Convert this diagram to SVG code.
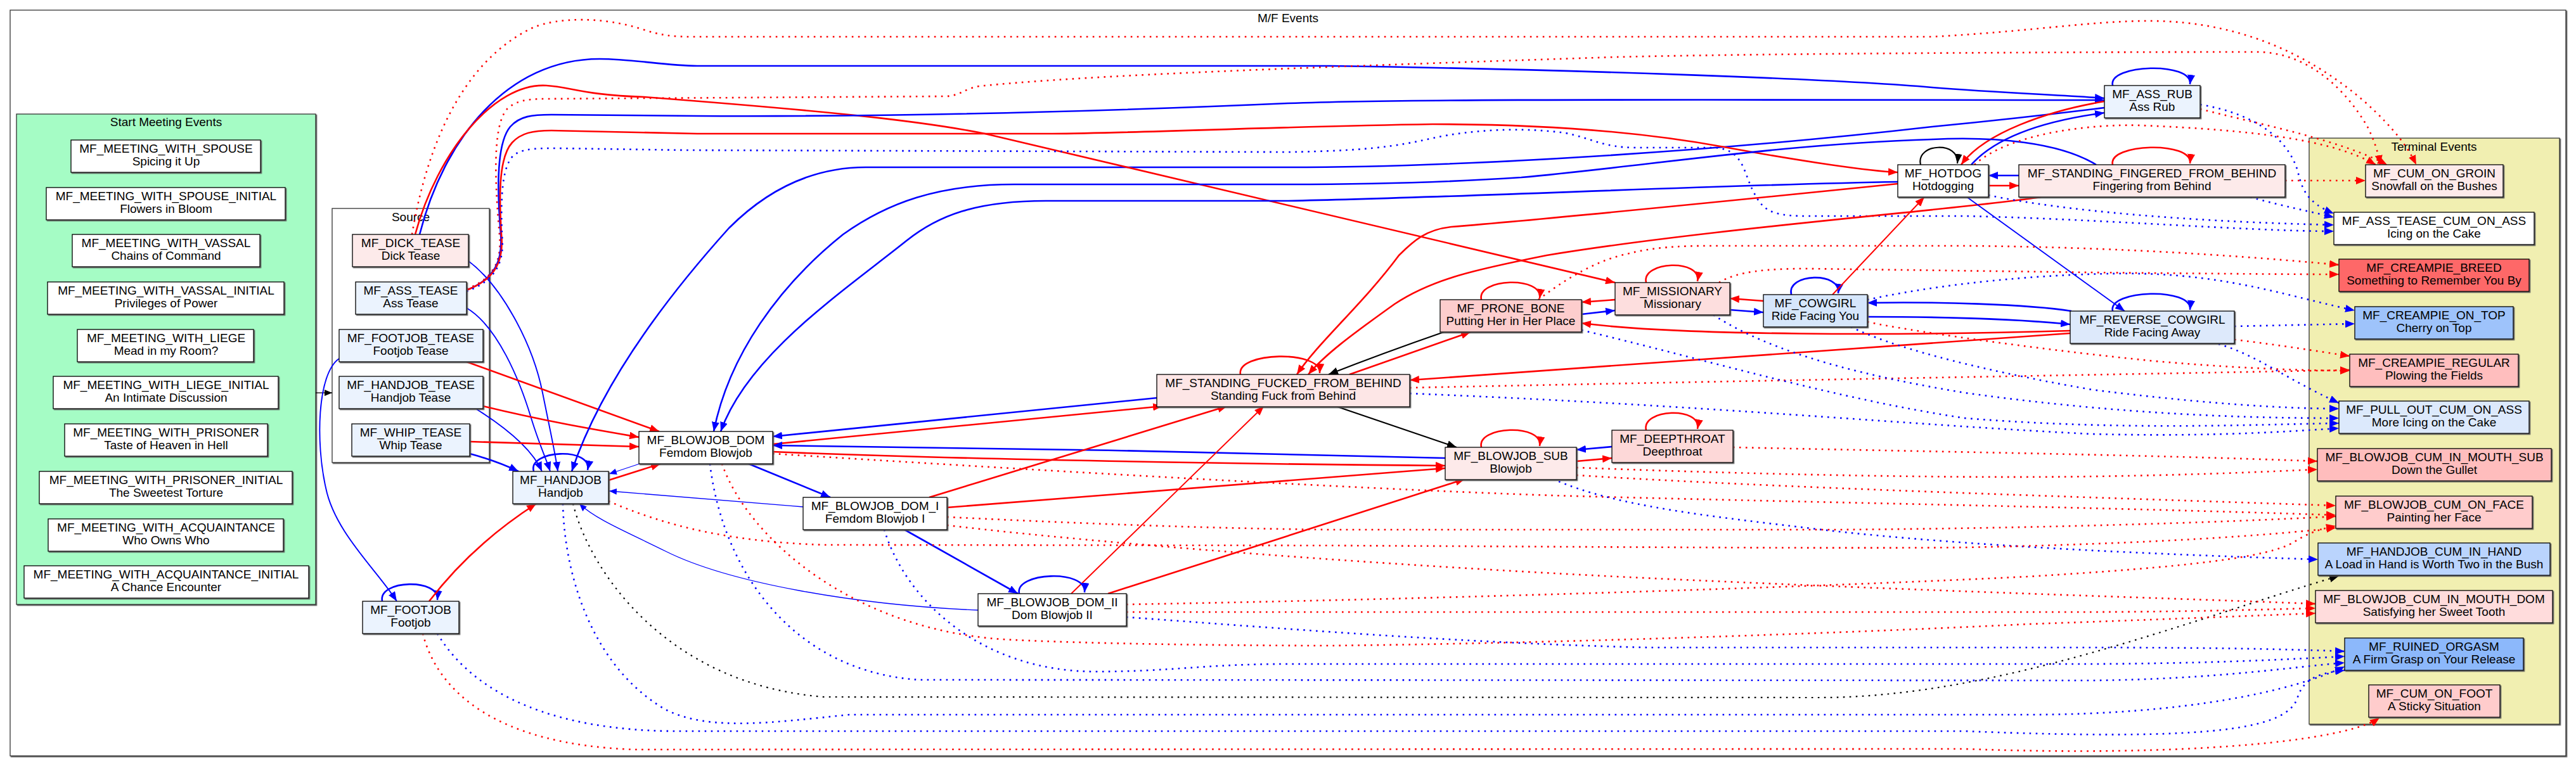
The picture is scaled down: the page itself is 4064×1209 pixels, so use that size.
<svg xmlns="http://www.w3.org/2000/svg" width="4064" height="1209" viewBox="0 0 4064 1209">
<style>
text{font-family:"Liberation Sans",Arial,sans-serif;font-size:19px;text-anchor:middle;fill:#000}
.n rect{stroke:#000;stroke-width:1.3;filter:url(#sh)}
.c{stroke:#333;stroke-width:1.3;filter:url(#sh)}
.e path{fill:none}
.r{stroke:#f00;stroke-width:2.6;marker-end:url(#mr)}
.b{stroke:#00f;stroke-width:2.6;marker-end:url(#mb)}
.k{stroke:#000;stroke-width:2.2;marker-end:url(#mk)}
.m{stroke-width:1.9}
.bt{stroke:#00f;stroke-width:1.3;marker-end:url(#mbs)}
.ks{stroke:#000;stroke-width:1.3;marker-end:url(#mks)}
.d{stroke-dasharray:2.6 7.4}
</style>
<defs>
<filter id="sh" x="-5%" y="-5%" width="110%" height="120%"><feDropShadow dx="1.5" dy="1.5" stdDeviation="0.3" flood-color="#555" flood-opacity="1"/></filter>
<marker id="mr" markerUnits="userSpaceOnUse" markerWidth="16" markerHeight="12" refX="15" refY="6" orient="auto"><path d="M0,0 L15,6 L0,12 z" fill="#f00"/></marker>
<marker id="mb" markerUnits="userSpaceOnUse" markerWidth="16" markerHeight="12" refX="15" refY="6" orient="auto"><path d="M0,0 L15,6 L0,12 z" fill="#00f"/></marker>
<marker id="mk" markerUnits="userSpaceOnUse" markerWidth="16" markerHeight="12" refX="15" refY="6" orient="auto"><path d="M0,0 L15,6 L0,12 z" fill="#000"/></marker>
<marker id="mbs" markerUnits="userSpaceOnUse" markerWidth="13" markerHeight="10" refX="12" refY="5" orient="auto"><path d="M0,0 L12,5 L0,10 z" fill="#00f"/></marker>
<marker id="mks" markerUnits="userSpaceOnUse" markerWidth="13" markerHeight="10" refX="12" refY="5" orient="auto"><path d="M0,0 L12,5 L0,10 z" fill="#000"/></marker>
</defs>
<rect width="4064" height="1209" fill="#fff"/>
<g id="cluster_mf">
<rect class="c" x="16" y="16" width="4032" height="1177" fill="#fff"/>
<text x="2032" y="35">M/F Events</text>
</g>
<g id="cluster_start">
<rect class="c" x="26" y="180" width="472" height="774" fill="#a5fcc5"/>
<text x="262" y="199">Start Meeting Events</text>
</g>
<g id="cluster_source">
<rect class="c" x="524" y="329" width="248" height="401" fill="#fff"/>
<text x="648" y="349">Source</text>
</g>
<g id="cluster_terminal">
<rect class="c" x="3643" y="218" width="395" height="925" fill="#f1efb1"/>
<text x="3840" y="238">Terminal Events</text>
</g>

<g class="e" id="edges">
<path class="ks" d="M498,620 L524,620"/>
<path class="b m" d="M535,566 C500,590 498,700 514,770 C528,840 595,900 626,949"/>
<path class="b" d="M603,949 C596,915 694,912 690,947"/>
<path class="r" d="M677,949 Q745,860 846,795"/>
<path class="r d" d="M667,1000 C690,1090 780,1175 1000,1183 L3100,1182 C3450,1195 3700,1170 3754,1133"/>
<path class="b d" d="M690,1000 C750,1100 880,1152 1060,1154 L3100,1154 C3500,1170 3610,1150 3625,1100 C3635,1070 3660,1062 3699,1058"/>
<path class="b" d="M842,744 C832,710 935,705 927,742"/>
<path class="b m" d="M739,412 C790,450 840,540 856,620 C868,680 877,720 880,744"/>
<path class="b m" d="M736,486 C785,515 820,600 838,660 C852,705 862,725 868,744"/>
<path class="b m" d="M752,646 C790,670 838,705 855,744"/>
<path class="b" d="M741,716 Q785,728 818,744"/>
<path class="r" d="M736,571 L1040,681"/>
<path class="r" d="M762,641 C860,665 950,680 1008,690"/>
<path class="r" d="M741,697 C850,700 950,703 1008,705"/>
<path class="r" d="M960,758 L1042,732"/>
<path class="bt" d="M1012,731 L961,748"/>
<path class="bt" d="M1267,800 C1150,790 1030,780 961,775"/>
<path class="b" d="M3320,170 C3200,185 3100,195 3048,200 C2700,240 2300,264 2032,264 L1366,264 C1280,264 1210,300 1150,360 C1060,460 950,600 902,744"/>
<path class="b" d="M662,370 C700,220 800,93 946,93 C1000,93 1050,104 1100,104 L2100,104 C2500,110 2900,125 3048,138 C3150,146 3250,150 3320,155"/>
<path class="r" d="M655,370 C690,240 780,130 862,135 C900,137 920,150 1016,153 C1300,175 1450,190 1554,211 L2548,446"/>
<path class="r d" d="M650,370 C670,250 720,100 842,43 C880,28 950,25 1016,47 C1040,55 1060,58 1090,58 L3048,58 C3200,50 3300,33 3390,33 C3550,33 3660,100 3730,160 C3780,205 3800,235 3812,260"/>
<path class="r d" d="M736,456 C780,440 792,410 788,370 C782,300 775,200 800,172 C812,160 830,156 860,156 L1490,152 C1515,152 1520,140 1545,136 C1700,120 2000,108 2550,90 C2800,84 3300,82 3560,82 C3640,82 3700,140 3735,200 C3745,220 3752,240 3755,260"/>
<path class="b" d="M736,458 C782,440 793,410 790,370 C786,320 780,230 805,200 C820,183 840,181 870,181 L1100,183 C1300,184 1600,182 2032,163 C2200,157 2400,157 3320,158"/>
<path class="r" d="M736,458 C783,440 795,410 791,370 C788,320 785,250 808,225 C822,210 840,206 870,206 L1100,211 L1660,211 C1800,210 2000,200 2260,196 C2450,196 2600,210 2720,232 C2850,256 2950,270 2994,272"/>
<path class="b d" d="M736,460 C784,442 796,412 792,372 C790,320 790,255 815,242 C830,234 850,234 880,234 L1081,237 L2032,240 C2150,238 2200,232 2260,218 C2320,205 2400,200 2470,210 C2510,218 2530,233 2580,233 L2700,233 C2750,233 2750,270 2765,300 C2780,330 2790,341 2850,341 L3100,341 C3300,345 3550,365 3682,365"/>
<path class="b" d="M3110,260 C3150,215 3230,190 3320,178"/>
<path class="r" d="M3320,160 C3230,175 3130,210 3094,260"/>
<path class="k" d="M3030,260 C3022,226 3092,222 3088,258"/>
<path class="r" d="M3333,260 C3325,226 3460,222 3455,258"/>
<path class="b" d="M3333,135 C3325,101 3460,97 3455,133"/>
<path class="b" d="M3185,277 L3137,277"/>
<path class="r" d="M3137,293 L3185,293"/>
<path class="b" d="M3307,260 C3250,225 3150,215 3048,220 C2800,228 2600,262 2400,280 C2250,290 2100,291 2032,291 L1600,291 C1480,291 1400,320 1330,370 C1230,450 1150,560 1126,681"/>
<path class="b" d="M2994,287 C2700,292 2300,312 2032,317 L1650,317 C1540,317 1480,340 1430,380 C1330,460 1180,560 1137,681"/>
<path class="r" d="M2994,290 C2700,320 2450,345 2290,358 C2250,362 2230,380 2207,403 C2150,480 2080,540 2046,591"/>
<path class="r" d="M3220,311 C3100,330 2700,360 2440,403 C2330,425 2260,440 2200,480 C2130,530 2090,560 2064,591"/>
<path class="r" d="M1957,591 C1950,555 2085,552 2082,589"/>
<path class="k" d="M2278,524 Q2180,558 2096,591"/>
<path class="r" d="M2129,591 L2320,524"/>
<path class="k" d="M2107,641 L2298,706"/>
<path class="b" d="M1825,628 L1219,689"/>
<path class="r" d="M1219,701 L1834,641"/>
<path class="b" d="M2280,723 C2000,715 1500,705 1219,703"/>
<path class="r" d="M1219,713 C1500,725 2000,733 2280,735"/>
<path class="r" d="M1494,801 L2280,739"/>
<path class="r" d="M1466,785 L1936,641"/>
<path class="r m" d="M1690,937 L1994,641"/>
<path class="r" d="M1748,937 L2311,756"/>
<path class="b" d="M1181,732 L1310,785"/>
<path class="b" d="M1427,836 L1606,937"/>
<path class="b" d="M1608,937 C1600,903 1715,898 1711,935"/>
<path class="bt" d="M1543,963 C1350,955 1150,920 1050,870 C990,840 940,820 914,795"/>
<path class="b d" d="M888,795 C890,900 930,1050 1050,1120 C1120,1155 1220,1140 1340,1128 L3200,1128 C3450,1128 3620,1090 3699,1052"/>
<path class="k d" d="M904,795 C930,900 1050,1080 1300,1100 L2870,1101 C3150,1101 3450,980 3690,909"/>
<path class="b d" d="M1120,732 C1140,900 1250,1060 1450,1073 L3300,1074 C3500,1072 3620,1052 3699,1046"/>
<path class="b d" d="M1395,836 C1430,950 1550,1060 1729,1060 C1850,1060 1900,1048 2032,1048 L3300,1048 C3500,1047 3620,1040 3699,1036"/>
<path class="b d" d="M1777,974 C2000,990 2300,1015 2600,1022 L3300,1022 C3500,1022 3620,1025 3699,1028"/>
<path class="r d" d="M1139,732 C1180,850 1350,1000 1600,1010 C1700,1015 1900,1019 2100,1019 C2500,1015 3000,995 3200,985 C3400,978 3550,972 3653,968"/>
<path class="r d" d="M1219,716 C1600,740 2100,770 2450,782 C2800,792 3300,800 3685,813"/>
<path class="r d" d="M2487,750 C2800,770 3300,785 3685,798"/>
<path class="r d" d="M2487,738 C2800,750 3100,755 3300,752 C3500,749 3600,743 3656,741"/>
<path class="r d" d="M2734,706 C3000,712 3400,718 3656,728"/>
<path class="b d" d="M2450,756 C2550,800 2700,815 2874,836 C3100,862 3400,875 3657,883"/>
<path class="r d" d="M960,791 C1050,830 1150,855 1300,860 L2100,861 C2500,863 2900,866 3100,864 C3400,858 3580,845 3685,833"/>
<path class="r d" d="M1494,816 C1700,826 1900,834 2100,836 L2900,836 C3200,834 3500,825 3685,815"/>
<path class="r d" d="M1494,829 C1800,865 2300,900 2700,917 C3100,935 3450,945 3653,953"/>
<path class="r d" d="M1777,954 C2300,945 2900,925 3200,910 C3450,895 3580,880 3620,855 C3640,842 3660,835 3685,830"/>
<path class="r d" d="M1777,966 L3300,966 C3500,965 3600,961 3653,960"/>
<path class="r" d="M2337,706 C2329,672 2435,668 2429,704"/>
<path class="r" d="M2597,679 C2589,645 2685,641 2678,677"/>
<path class="r" d="M2337,473 C2329,439 2435,435 2429,471"/>
<path class="r" d="M2597,446 C2589,412 2685,408 2678,444"/>
<path class="b" d="M2826,465 C2818,431 2905,428 2900,463"/>
<path class="b" d="M3333,491 C3325,457 3460,453 3455,489"/>
<path class="b m" d="M3103,311 L3352,491"/>
<path class="r m" d="M2891,465 L3036,311"/>
<path class="b" d="M2946,500 C3050,500 3180,503 3266,512"/>
<path class="b" d="M3268,491 C3200,480 3050,476 2946,478"/>
<path class="r" d="M3266,526 L2224,600"/>
<path class="r" d="M3266,522 C3000,530 2650,530 2495,510"/>
<path class="r" d="M2548,473 L2495,477"/>
<path class="b" d="M2495,496 L2548,490"/>
<path class="r" d="M2782,475 L2729,471"/>
<path class="b" d="M2729,489 L2782,493"/>
<path class="b" d="M2543,705 L2487,710"/>
<path class="r" d="M2487,728 L2543,723"/>
<path class="r d" d="M2427,473 C2470,440 2520,410 2570,400 C2610,390 2650,388 2700,388 L3100,388 C3350,390 3550,405 3690,418"/>
<path class="r d" d="M2712,446 C2740,428 2790,424 2850,424 L3300,430 C3500,432 3620,433 3690,433"/>
<path class="b d" d="M2946,473 C3100,440 3280,430 3380,432 C3520,435 3620,470 3715,490"/>
<path class="b d" d="M3525,515 L3715,511"/>
<path class="r d" d="M3525,536 C3600,545 3660,555 3707,562"/>
<path class="r d" d="M2946,508 C3000,520 3200,550 3400,570 C3550,583 3650,585 3707,585"/>
<path class="r d" d="M2224,612 C2800,600 3400,590 3707,584"/>
<path class="b d" d="M2224,621 C2700,640 3000,670 3300,685 C3500,690 3620,680 3690,676"/>
<path class="b d" d="M2495,521 C2700,570 2900,630 3100,660 C3350,680 3550,670 3690,668"/>
<path class="b d" d="M2703,497 C2800,560 2950,595 3100,620 C3350,655 3550,660 3690,660"/>
<path class="b d" d="M2920,516 C2980,545 3100,580 3300,615 C3500,640 3620,645 3690,645"/>
<path class="b d" d="M3500,543 C3560,560 3610,600 3690,636"/>
<path class="r d" d="M3115,260 C3170,210 3300,195 3380,198 C3550,205 3680,220 3748,260"/>
<path class="r d" d="M3471,172 C3560,195 3690,220 3766,260"/>
<path class="b d" d="M3471,165 C3560,180 3610,220 3625,270 C3632,300 3640,320 3682,337"/>
<path class="r d" d="M3605,285 L3732,285"/>
<path class="b d" d="M3550,311 C3600,325 3650,335 3682,343"/>
<path class="b d" d="M3137,308 C3250,332 3450,350 3682,355"/>
</g>

<g class="n" id="MF_MEETING_WITH_SPOUSE"><rect x="112" y="221" width="299" height="51" fill="#fff"/><text x="262" y="241">MF_MEETING_WITH_SPOUSE</text><text x="262" y="261">Spicing it Up</text></g>
<g class="n" id="MF_MEETING_WITH_SPOUSE_INITIAL"><rect x="73" y="296" width="377" height="51" fill="#fff"/><text x="262" y="316">MF_MEETING_WITH_SPOUSE_INITIAL</text><text x="262" y="336">Flowers in Bloom</text></g>
<g class="n" id="MF_MEETING_WITH_VASSAL"><rect x="114" y="370" width="296" height="51" fill="#fff"/><text x="262" y="390">MF_MEETING_WITH_VASSAL</text><text x="262" y="410">Chains of Command</text></g>
<g class="n" id="MF_MEETING_WITH_VASSAL_INITIAL"><rect x="75" y="445" width="373" height="51" fill="#fff"/><text x="262" y="465">MF_MEETING_WITH_VASSAL_INITIAL</text><text x="262" y="485">Privileges of Power</text></g>
<g class="n" id="MF_MEETING_WITH_LIEGE"><rect x="122" y="520" width="278" height="51" fill="#fff"/><text x="262" y="540">MF_MEETING_WITH_LIEGE</text><text x="262" y="560">Mead in my Room?</text></g>
<g class="n" id="MF_MEETING_WITH_LIEGE_INITIAL"><rect x="84" y="594" width="355" height="51" fill="#fff"/><text x="262" y="614">MF_MEETING_WITH_LIEGE_INITIAL</text><text x="262" y="634">An Intimate Discussion</text></g>
<g class="n" id="MF_MEETING_WITH_PRISONER"><rect x="102" y="669" width="320" height="51" fill="#fff"/><text x="262" y="689">MF_MEETING_WITH_PRISONER</text><text x="262" y="709">Taste of Heaven in Hell</text></g>
<g class="n" id="MF_MEETING_WITH_PRISONER_INITIAL"><rect x="62" y="744" width="399" height="51" fill="#fff"/><text x="262" y="764">MF_MEETING_WITH_PRISONER_INITIAL</text><text x="262" y="784">The Sweetest Torture</text></g>
<g class="n" id="MF_MEETING_WITH_ACQUAINTANCE"><rect x="76" y="819" width="371" height="51" fill="#fff"/><text x="262" y="839">MF_MEETING_WITH_ACQUAINTANCE</text><text x="262" y="859">Who Owns Who</text></g>
<g class="n" id="MF_MEETING_WITH_ACQUAINTANCE_INITIAL"><rect x="38" y="893" width="449" height="51" fill="#fff"/><text x="262" y="913">MF_MEETING_WITH_ACQUAINTANCE_INITIAL</text><text x="262" y="933">A Chance Encounter</text></g>

<g class="n" id="MF_DICK_TEASE"><rect x="556" y="370" width="183" height="51" fill="#fdeaea"/><text x="648" y="390">MF_DICK_TEASE</text><text x="648" y="410">Dick Tease</text></g>
<g class="n" id="MF_ASS_TEASE"><rect x="561" y="445" width="175" height="51" fill="#ebf3fe"/><text x="648" y="465">MF_ASS_TEASE</text><text x="648" y="485">Ass Tease</text></g>
<g class="n" id="MF_FOOTJOB_TEASE"><rect x="535" y="520" width="227" height="51" fill="#ebf3fe"/><text x="648" y="540">MF_FOOTJOB_TEASE</text><text x="648" y="560">Footjob Tease</text></g>
<g class="n" id="MF_HANDJOB_TEASE"><rect x="535" y="594" width="227" height="51" fill="#ebf3fe"/><text x="648" y="614">MF_HANDJOB_TEASE</text><text x="648" y="634">Handjob Tease</text></g>
<g class="n" id="MF_WHIP_TEASE"><rect x="555" y="669" width="186" height="51" fill="#ebf3fe"/><text x="648" y="689">MF_WHIP_TEASE</text><text x="648" y="709">Whip Tease</text></g>

<g class="n" id="MF_HANDJOB"><rect x="809" y="744" width="151" height="51" fill="#ebf3fe"/><text x="884.5" y="764">MF_HANDJOB</text><text x="884.5" y="784">Handjob</text></g>
<g class="n" id="MF_FOOTJOB"><rect x="572" y="949" width="152" height="51" fill="#ebf3fe"/><text x="648" y="969">MF_FOOTJOB</text><text x="648" y="989">Footjob</text></g>
<g class="n" id="MF_BLOWJOB_DOM"><rect x="1008" y="681" width="211" height="51" fill="#fff"/><text x="1113.5" y="701">MF_BLOWJOB_DOM</text><text x="1113.5" y="721">Femdom Blowjob</text></g>
<g class="n" id="MF_BLOWJOB_DOM_I"><rect x="1267" y="785" width="227" height="51" fill="#fff"/><text x="1380.5" y="805">MF_BLOWJOB_DOM_I</text><text x="1380.5" y="825">Femdom Blowjob I</text></g>
<g class="n" id="MF_BLOWJOB_DOM_II"><rect x="1543" y="937" width="234" height="51" fill="#fff"/><text x="1660" y="957">MF_BLOWJOB_DOM_II</text><text x="1660" y="977">Dom Blowjob II</text></g>
<g class="n" id="MF_STANDING_FUCKED_FROM_BEHIND"><rect x="1825" y="591" width="399" height="51" fill="#fde6e6"/><text x="2024.5" y="611">MF_STANDING_FUCKED_FROM_BEHIND</text><text x="2024.5" y="631">Standing Fuck from Behind</text></g>
<g class="n" id="MF_PRONE_BONE"><rect x="2272" y="473" width="223" height="51" fill="#fdcdcd"/><text x="2383.5" y="493">MF_PRONE_BONE</text><text x="2383.5" y="513">Putting Her in Her Place</text></g>
<g class="n" id="MF_BLOWJOB_SUB"><rect x="2280" y="706" width="207" height="51" fill="#fdeaea"/><text x="2383.5" y="726">MF_BLOWJOB_SUB</text><text x="2383.5" y="746">Blowjob</text></g>
<g class="n" id="MF_MISSIONARY"><rect x="2548" y="446" width="181" height="51" fill="#fddede"/><text x="2638.5" y="466">MF_MISSIONARY</text><text x="2638.5" y="486">Missionary</text></g>
<g class="n" id="MF_DEEPTHROAT"><rect x="2543" y="679" width="191" height="51" fill="#fdd8d8"/><text x="2638.5" y="699">MF_DEEPTHROAT</text><text x="2638.5" y="719">Deepthroat</text></g>
<g class="n" id="MF_COWGIRL"><rect x="2782" y="465" width="164" height="51" fill="#d6e6fb"/><text x="2864" y="485">MF_COWGIRL</text><text x="2864" y="505">Ride Facing You</text></g>
<g class="n" id="MF_HOTDOG"><rect x="2994" y="260" width="143" height="51" fill="#fff"/><text x="3065.5" y="280">MF_HOTDOG</text><text x="3065.5" y="300">Hotdogging</text></g>
<g class="n" id="MF_STANDING_FINGERED_FROM_BEHIND"><rect x="3185" y="260" width="420" height="51" fill="#fdeaea"/><text x="3395" y="280">MF_STANDING_FINGERED_FROM_BEHIND</text><text x="3395" y="300">Fingering from Behind</text></g>
<g class="n" id="MF_ASS_RUB"><rect x="3320" y="135" width="151" height="51" fill="#ebf3fe"/><text x="3395.5" y="155">MF_ASS_RUB</text><text x="3395.5" y="175">Ass Rub</text></g>
<g class="n" id="MF_REVERSE_COWGIRL"><rect x="3266" y="491" width="259" height="51" fill="#dde9fb"/><text x="3395.5" y="511">MF_REVERSE_COWGIRL</text><text x="3395.5" y="531">Ride Facing Away</text></g>

<g class="n" id="MF_CUM_ON_GROIN"><rect x="3732" y="260" width="217" height="51" fill="#fdeaea"/><text x="3840.5" y="280">MF_CUM_ON_GROIN</text><text x="3840.5" y="300">Snowfall on the Bushes</text></g>
<g class="n" id="MF_ASS_TEASE_CUM_ON_ASS"><rect x="3682" y="335" width="316" height="51" fill="#fff"/><text x="3840" y="355">MF_ASS_TEASE_CUM_ON_ASS</text><text x="3840" y="375">Icing on the Cake</text></g>
<g class="n" id="MF_CREAMPIE_BREED"><rect x="3690" y="409" width="300" height="51" fill="#fe6767"/><text x="3840" y="429">MF_CREAMPIE_BREED</text><text x="3840" y="449">Something to Remember You By</text></g>
<g class="n" id="MF_CREAMPIE_ON_TOP"><rect x="3715" y="484" width="250" height="51" fill="#9ec3fb"/><text x="3840" y="504">MF_CREAMPIE_ON_TOP</text><text x="3840" y="524">Cherry on Top</text></g>
<g class="n" id="MF_CREAMPIE_REGULAR"><rect x="3707" y="559" width="266" height="51" fill="#ffbebe"/><text x="3840" y="579">MF_CREAMPIE_REGULAR</text><text x="3840" y="599">Plowing the Fields</text></g>
<g class="n" id="MF_PULL_OUT_CUM_ON_ASS"><rect x="3690" y="633" width="300" height="51" fill="#dce9fc"/><text x="3840" y="653">MF_PULL_OUT_CUM_ON_ASS</text><text x="3840" y="673">More Icing on the Cake</text></g>
<g class="n" id="MF_BLOWJOB_CUM_IN_MOUTH_SUB"><rect x="3656" y="708" width="369" height="51" fill="#ffbdbd"/><text x="3840.5" y="728">MF_BLOWJOB_CUM_IN_MOUTH_SUB</text><text x="3840.5" y="748">Down the Gullet</text></g>
<g class="n" id="MF_BLOWJOB_CUM_ON_FACE"><rect x="3685" y="783" width="310" height="51" fill="#ffcccc"/><text x="3840" y="803">MF_BLOWJOB_CUM_ON_FACE</text><text x="3840" y="823">Painting her Face</text></g>
<g class="n" id="MF_HANDJOB_CUM_IN_HAND"><rect x="3657" y="857" width="366" height="51" fill="#bad4fd"/><text x="3840" y="877">MF_HANDJOB_CUM_IN_HAND</text><text x="3840" y="897">A Load in Hand is Worth Two in the Bush</text></g>
<g class="n" id="MF_BLOWJOB_CUM_IN_MOUTH_DOM"><rect x="3653" y="932" width="374" height="51" fill="#ffdcdc"/><text x="3840" y="952">MF_BLOWJOB_CUM_IN_MOUTH_DOM</text><text x="3840" y="972">Satisfying her Sweet Tooth</text></g>
<g class="n" id="MF_RUINED_ORGASM"><rect x="3699" y="1007" width="282" height="51" fill="#8cb8fb"/><text x="3840" y="1027">MF_RUINED_ORGASM</text><text x="3840" y="1047">A Firm Grasp on Your Release</text></g>
<g class="n" id="MF_CUM_ON_FOOT"><rect x="3737" y="1081" width="207" height="51" fill="#ffcccc"/><text x="3840.5" y="1101">MF_CUM_ON_FOOT</text><text x="3840.5" y="1121">A Sticky Situation</text></g>
</svg>
